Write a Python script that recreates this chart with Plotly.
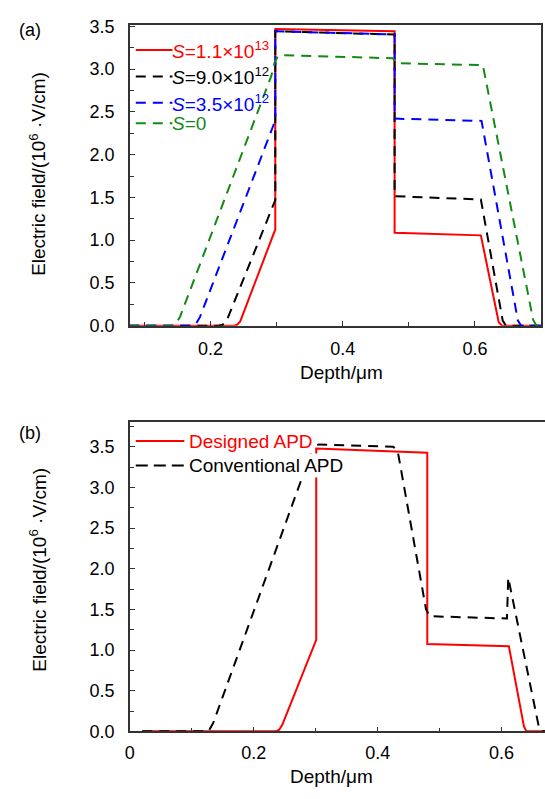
import plotly.graph_objects as go

W, H = 545, 799
FONT = "Arial, Liberation Sans, sans-serif"

# ---------------- (a) field profiles for several sheet charge densities S ----------------
depth_s11 = [0.0, 0.236, 0.240, 0.245, 0.298, 0.298, 0.4785, 0.4785, 0.609, 0.632, 0.636, 0.641, 0.70]
field_s11 = [0.0, 0.0, 0.01, 0.05, 1.125, 3.469, 3.443, 1.087, 1.056, 0.19, 0.04, 0.0, 0.0]

depth_s90 = [0.0, 0.212, 0.218, 0.224, 0.298, 0.298, 0.4785, 0.4785, 0.609, 0.638, 0.642, 0.647, 0.70]
field_s90 = [0.0, 0.0, 0.01, 0.05, 1.468, 3.443, 3.404, 1.514, 1.475, 0.25, 0.06, 0.0, 0.0]

depth_s35 = [0.0, 0.172, 0.178, 0.184, 0.298, 0.298, 0.4785, 0.4785, 0.610, 0.660, 0.665, 0.670, 0.70]
field_s35 = [0.0, 0.0, 0.02, 0.10, 2.40, 3.443, 3.404, 2.421, 2.394, 0.26, 0.06, 0.0, 0.0]

depth_s0 = [0.0, 0.142, 0.148, 0.154, 0.292, 0.297, 0.302, 0.308, 0.476, 0.482, 0.612, 0.683, 0.688, 0.693, 0.70]
field_s0 = [0.0, 0.0, 0.03, 0.105, 2.92, 3.08, 3.15, 3.164, 3.126, 3.069, 3.046, 0.28, 0.07, 0.0, 0.0]

# ---------------- (b) designed vs conventional APD ----------------
depth_designed = [0.02, 0.236, 0.241, 0.246, 0.3008, 0.3008, 0.480, 0.480, 0.6117, 0.632, 0.636, 0.640, 0.68]
field_designed = [0.0, 0.0, 0.02, 0.08, 1.126, 3.48, 3.428, 1.074, 1.046, 0.24, 0.06, 0.0, 0.0]

depth_conv = [0.02, 0.127, 0.1344, 0.296, 0.305, 0.425, 0.432, 0.478, 0.484, 0.6086, 0.6107, 0.657, 0.661, 0.665, 0.68]
field_conv = [0.0, 0.0, 0.10, 3.50, 3.53, 3.50, 3.46, 1.50, 1.416, 1.388, 1.89, 0.16, 0.02, 0.0, 0.0]

legend_a = ["<i>S</i>=1.1×10<sup>13</sup>", "<i>S</i>=9.0×10<sup>12</sup>",
            "<i>S</i>=3.5×10<sup>12</sup>", "<i>S</i>=0"]
colors_a = ["#ff0000", "#000000", "#0000ff", "#148a14"]
legend_b = ["Designed APD", "Conventional APD"]
colors_b = ["#ff0000", "#000000"]

DASH = "10px,7px"
LW = 2.0


def px_x(px):
    return px / W


def px_y(py):
    return 1 - py / H


fig = go.Figure()

series_a = [(depth_s11, field_s11, "solid"), (depth_s90, field_s90, DASH),
            (depth_s35, field_s35, DASH), (depth_s0, field_s0, DASH)]
for (xs, ys, dash), col, name in zip(series_a, colors_a, legend_a):
    fig.add_trace(go.Scatter(x=xs, y=ys, mode="lines", name=name, showlegend=False,
                             line=dict(color=col, width=LW, dash=dash),
                             xaxis="x", yaxis="y"))

series_b = [(depth_designed, field_designed, "solid"), (depth_conv, field_conv, DASH)]
for (xs, ys, dash), col, name in zip(series_b, colors_b, legend_b):
    fig.add_trace(go.Scatter(x=xs, y=ys, mode="lines", name=name, showlegend=False,
                             line=dict(color=col, width=LW, dash=dash),
                             xaxis="x2", yaxis="y2"))

axis_common = dict(
    showline=True, linecolor="#333333", linewidth=1.5,
    ticks="inside", ticklen=5, tickwidth=1.2, tickcolor="#333333",
    showgrid=False, zeroline=False,
    tickfont=dict(family=FONT, size=18, color="#000000"),
)

fig.update_layout(
    width=W, height=H,
    margin=dict(l=0, r=0, t=0, b=0),
    paper_bgcolor="white", plot_bgcolor="white",
    font=dict(family=FONT, color="#000000"),
    xaxis=dict(axis_common, domain=[px_x(126), px_x(541)], range=[0.078, 0.70],
               tickvals=[0.2, 0.4, 0.6], ticktext=["0.2", "0.4", "0.6"],
               minor=dict(ticks="inside", dtick=0.1, tick0=0, ticklen=4, tickcolor="#333333"),
               mirror=True, anchor="y", ticklabelstandoff=6),
    yaxis=dict(axis_common, domain=[px_y(325), px_y(17)], range=[0, 3.52],
               tickvals=[0, 0.5, 1.0, 1.5, 2.0, 2.5, 3.0, 3.5], tickformat=".1f",
               minor=dict(ticks="inside", dtick=0.25, tick0=0, ticklen=4, tickcolor="#333333"),
               mirror=True, anchor="x", ticklabelstandoff=10),
    xaxis2=dict(axis_common, domain=[px_x(126), 1.0], range=[0, 0.67],
                tickvals=[0, 0.2, 0.4, 0.6], ticktext=["0", "0.2", "0.4", "0.6"],
                minor=dict(ticks="inside", dtick=0.1, tick0=0, ticklen=4, tickcolor="#333333"),
                mirror=True, anchor="y2", ticklabelstandoff=4),
    yaxis2=dict(axis_common, domain=[px_y(740), px_y(424)], range=[0, 3.8],
                tickvals=[0, 0.5, 1.0, 1.5, 2.0, 2.5, 3.0, 3.5], tickformat=".1f",
                minor=dict(ticks="inside", dtick=0.25, tick0=0, ticklen=4, tickcolor="#333333"),
                mirror=False, anchor="x2", ticklabelstandoff=10),
)

annotations = []
shapes = []

# panel tags
for tag, py in (("(a)", 23), ("(b)", 435)):
    annotations.append(dict(text=tag, x=px_x(12), y=px_y(py), xref="paper", yref="paper",
                            xanchor="left", yanchor="middle", showarrow=False,
                            font=dict(family=FONT, size=18, color="#000000")))

# axis titles
ytitle = "Electric field/(10<sup>6</sup> ·V/cm)"
for py in (170, 575):
    annotations.append(dict(text=ytitle, x=px_x(33), y=px_y(py), xref="paper", yref="paper",
                            xanchor="center", yanchor="middle", textangle=-90, showarrow=False,
                            font=dict(family=FONT, size=19, color="#000000")))
for cx, py in ((340, 373), (330, 786)):
    annotations.append(dict(text="Depth/μm", x=px_x(cx), y=px_y(py), xref="paper", yref="paper",
                            xanchor="center", yanchor="middle", showarrow=False,
                            font=dict(family=FONT, size=19, color="#000000")))

# legend of panel (a)
for name, col, dash, py in zip(legend_a, colors_a, ["solid", DASH, DASH, DASH], [43, 70, 97, 118]):
    shapes.append(dict(type="line", xref="paper", yref="paper",
                       x0=px_x(132), x1=px_x(169), y0=px_y(py), y1=px_y(py),
                       line=dict(color=col, width=LW, dash=dash)))
    annotations.append(dict(text=name, x=px_x(168), y=px_y(py), xref="paper", yref="paper",
                            xanchor="left", yanchor="middle", showarrow=False, borderpad=0,
                            font=dict(family=FONT, size=19, color=col)))

# legend of panel (b)
for name, col, dash, py in zip(legend_b, colors_b, ["solid", "12px,6px"], [443, 468]):
    shapes.append(dict(type="line", xref="paper", yref="paper",
                       x0=px_x(132), x1=px_x(181), y0=px_y(py), y1=px_y(py),
                       line=dict(color=col, width=LW, dash=dash)))
    annotations.append(dict(text=name, x=px_x(184), y=px_y(py), xref="paper", yref="paper",
                            xanchor="left", yanchor="middle", showarrow=False, borderpad=1,
                            bgcolor="white",
                            font=dict(family=FONT, size=19, color=col)))

fig.update_layout(annotations=annotations, shapes=shapes)

fig.write_html("out.html")
